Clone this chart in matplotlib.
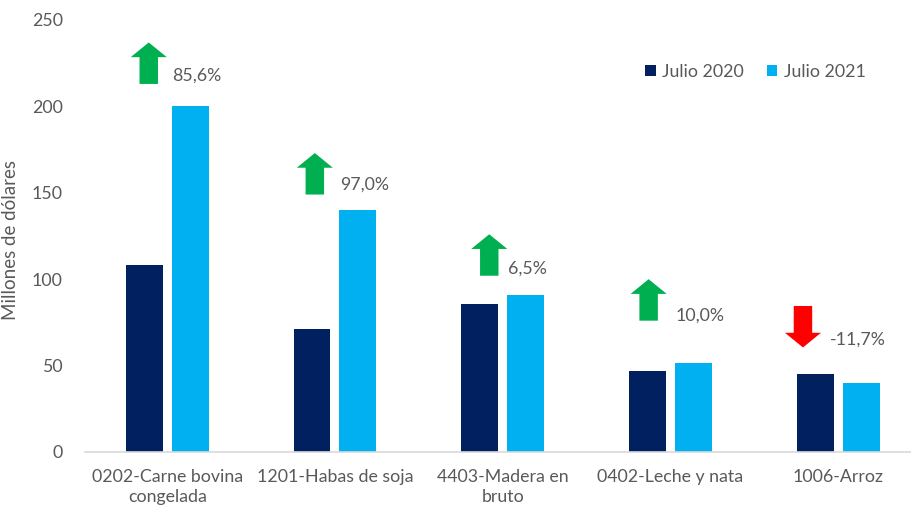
import numpy as np
import matplotlib.pyplot as plt

plt.rcParams['font.family'] = ['Lato', 'DejaVu Sans']

categories = ['0202-Carne bovina\ncongelada', '1201-Habas de soja', '4403-Madera en\nbruto',
              '0402-Leche y nata', '1006-Arroz']
julio_2020 = [108, 71, 85.5, 47, 45]
julio_2021 = [200.5, 140, 91, 51.7, 39.7]
var_labels = ['85,6%', '97,0%', '6,5%', '10,0%', '-11,7%']

# arrow placement (x offset from category centre, base y)
arrow_dx = [-0.11, -0.12, -0.08, -0.13, -0.21]
arrow_base = [213, 149, 102, 76, 84.5]
label_y = [218, 154.5, 106, 79, 65]

dark = '#002060'
light = '#00B0F0'
grey = '#595959'
fs = 12.8

def main():
    fig = plt.figure(figsize=(9.12, 5.08), dpi=100)
    ax = fig.add_axes([85/912, 56/508, 827/912, 432/508])
    x = np.arange(len(categories))
    w = 0.22
    ax.bar(x - 0.137, julio_2020, w, color=dark, label='Julio 2020')
    ax.bar(x + 0.137, julio_2021, w, color=light, label='Julio 2021')

    for i in range(len(categories)):
        up = julio_2021[i] >= julio_2020[i]
        col = '#00B050' if up else '#FF0000'
        ax.arrow(x[i] + arrow_dx[i], arrow_base[i], 0, 24 if up else -24,
                 width=0.11, head_width=0.215, head_length=8.5,
                 length_includes_head=True, color=col, lw=0)
        ax.text(x[i] + (0.03 if up else -0.05), label_y[i], var_labels[i],
                fontsize=fs, color=grey, va='center', ha='left')

    ax.set_xlim(-0.49, 4.44)
    ax.set_ylim(0, 250)
    ax.set_yticks(range(0, 251, 50))
    ax.set_xticks(x)
    ax.set_xticklabels(categories, linespacing=1.35)
    ax.tick_params(axis='both', length=0, labelsize=fs, labelcolor=grey)
    ax.tick_params(axis='x', pad=12)
    ax.tick_params(axis='y', pad=16)
    for s in ['top', 'right', 'left']:
        ax.spines[s].set_visible(False)
    ax.spines['bottom'].set_color('#D9D9D9')
    ax.spines['bottom'].set_linewidth(1.2)
    ax.set_ylabel('Millones de dólares', fontsize=13.5, color=grey)
    ax.yaxis.set_label_coords(-66/827, 0.49)

    leg = ax.legend(loc='upper right', bbox_to_anchor=(0.963, 0.935), ncol=2, frameon=False,
                    fontsize=fs, handlelength=0.6, handleheight=0.6, handletextpad=0.35,
                    columnspacing=1.3)
    for t in leg.get_texts():
        t.set_color(grey)

    fig.savefig('out.png', dpi=100)


if __name__ == '__main__':
    main()
